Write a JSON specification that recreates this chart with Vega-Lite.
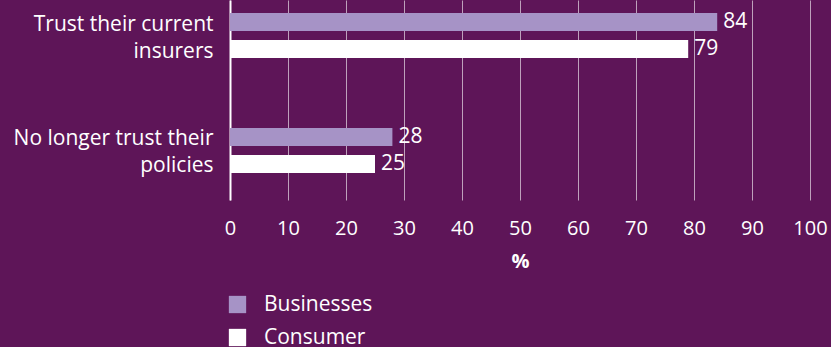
{
  "$schema": "https://vega.github.io/schema/vega-lite/v6.json",
  "autosize": "none",
  "width": 580,
  "height": 200,
  "padding": {"left": 230, "top": 0, "right": 21, "bottom": 147},
  "background": "#5E1558",
  "config": {
    "view": {"stroke": null},
    "font": "Open Sans",
    "text": {"font": "Open Sans"}
  },
  "data": {
    "values": [
      {"category": "Trust their current insurers", "group": "Businesses", "value": 84},
      {"category": "Trust their current insurers", "group": "Consumer", "value": 79},
      {"category": "No longer trust their policies", "group": "Businesses", "value": 28},
      {"category": "No longer trust their policies", "group": "Consumer", "value": 25}
    ]
  },
  "encoding": {
    "y": {
      "field": "category",
      "type": "nominal",
      "sort": ["Trust their current insurers", "No longer trust their policies"],
      "scale": {"paddingInner": 0.6087, "paddingOuter": 0.174, "align": 0.325},
      "axis": {
        "title": null,
        "ticks": false,
        "domainColor": "#FFFFFF",
        "domainWidth": 2,
        "labelColor": "#FFFFFF",
        "labelFontSize": 21,
        "labelFont": "Open Sans",
        "labelPadding": 17,
        "labelLimit": 300,
        "labelLineHeight": 27,
        "labelBaseline": "middle",
        "labelOffset": -11,
        "labelExpr": "datum.value == 'Trust their current insurers' ? ['Trust their current', 'insurers'] : ['No longer trust their', 'policies']"
      }
    },
    "yOffset": {
      "field": "group",
      "type": "nominal",
      "sort": ["Businesses", "Consumer"],
      "scale": {"paddingInner": 0.333, "paddingOuter": 0}
    },
    "x": {
      "field": "value",
      "type": "quantitative",
      "scale": {"domain": [0, 100], "nice": false},
      "axis": {
        "title": "%",
        "titleColor": "#FFFFFF",
        "titleFontSize": 20,
        "titleFontWeight": "bold",
        "titleFont": "Open Sans",
        "titlePadding": 13,
        "values": [0, 10, 20, 30, 40, 50, 60, 70, 80, 90, 100],
        "domain": false,
        "ticks": false,
        "grid": true,
        "gridColor": "#FFFFFF",
        "gridOpacity": 0.6,
        "gridWidth": 1,
        "labelColor": "#FFFFFF",
        "labelFontSize": 20,
        "labelFont": "Open Sans",
        "labelPadding": 18,
        "labelFlush": false
      }
    }
  },
  "layer": [
    {
      "mark": {"type": "bar"},
      "encoding": {
        "color": {
          "field": "group",
          "type": "nominal",
          "scale": {"domain": ["Businesses", "Consumer"], "range": ["#A693C6", "#FFFFFF"]},
          "legend": {
            "title": null,
            "orient": "none",
            "legendX": -3,
            "legendY": 294,
            "direction": "vertical",
            "symbolType": "square",
            "symbolSize": 300,
            "symbolStrokeWidth": 0,
            "symbolOpacity": 1,
            "labelColor": "#FFFFFF",
            "labelFontSize": 21,
            "labelFont": "Open Sans",
            "labelOffset": 16,
            "rowPadding": 11
          }
        }
      }
    },
    {
      "mark": {"type": "text", "align": "left", "baseline": "middle", "dx": 6, "fontSize": 21, "color": "#FFFFFF", "font": "Open Sans"},
      "encoding": {
        "text": {"field": "value", "type": "quantitative"}
      }
    }
  ]
}
